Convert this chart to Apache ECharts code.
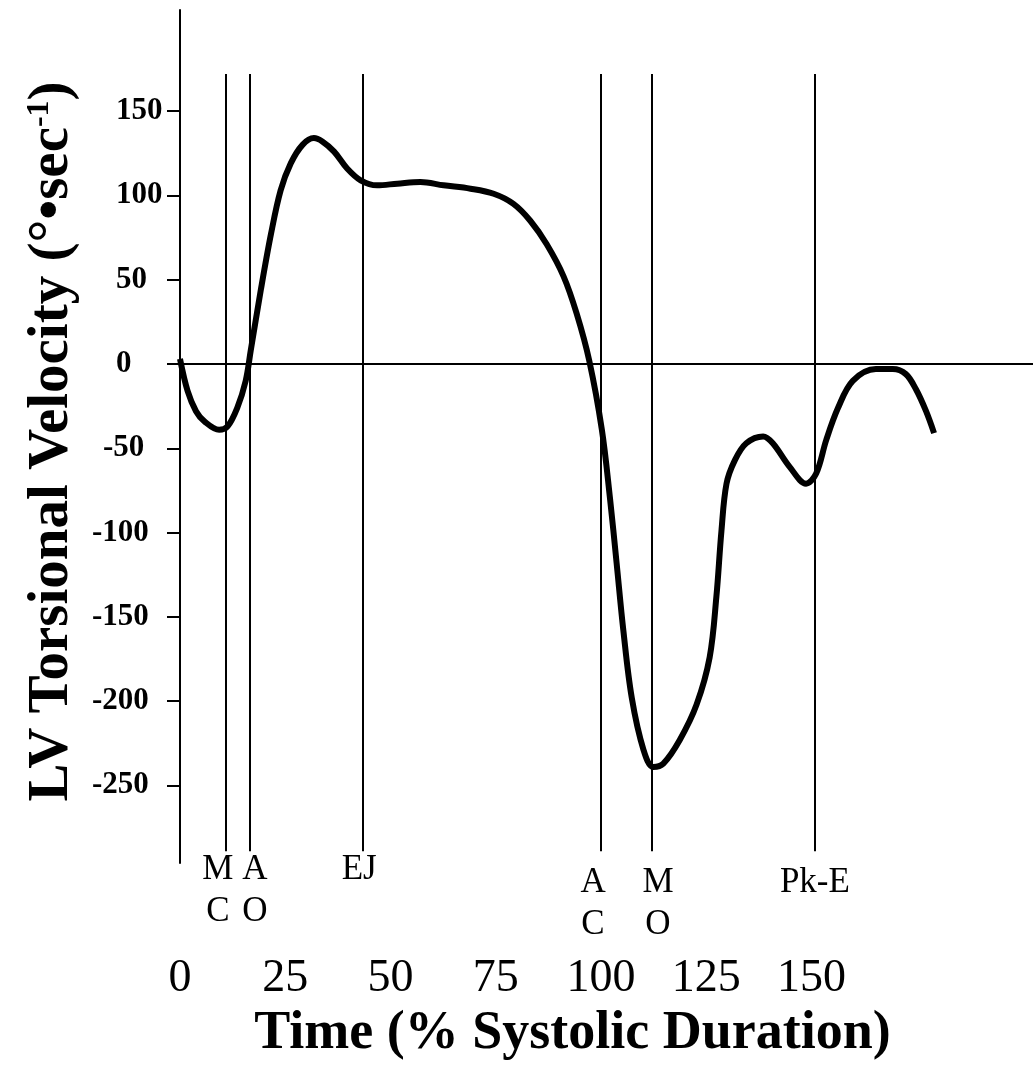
<!DOCTYPE html>
<html><head><meta charset="utf-8">
<script src="https://cdn.jsdelivr.net/npm/echarts@6/dist/echarts.min.js"></script>
<style>html,body{margin:0;padding:0;background:#fff}#c{width:1033px;height:1074px}</style>
</head><body><div id="c"></div>
<script>
// ---- data ----
const timePct = [0, 1.8, 3.8, 5.8, 9.3, 11.3, 13.6, 15.6, 16.8, 19.2, 21.6, 23.9, 26.3, 29.1, 31.8, 33.8, 36.6, 39.7, 42.9, 46.8, 51.6, 57.1, 62.6, 69, 74.5, 79.2, 83.2, 87.1, 91.1, 94.2, 97.2, 100.2, 102.1, 103.7, 105.3, 107.3, 110.1, 112.4, 114.8, 118.7, 122.7, 125.8, 127.4, 128.6, 129.8, 131.8, 134.5, 138.5, 140.8, 144.8, 148.7, 151.1, 153.5, 156.3, 159.8, 165.3, 169.3, 172.4, 174.8, 177.2, 179.1];
const torsionalVelocity = [3, -16, -28, -34, -39, -37, -26, -10, 8, 44, 77, 103, 119, 130, 134, 132, 126, 116, 109, 106, 107, 108, 106, 104, 101, 95, 85, 71, 52, 30, 2, -39, -79, -118, -158, -198, -229, -239, -237, -223, -202, -174, -138, -99, -71, -57, -47, -43, -47, -61, -71, -65, -45, -26, -10, -3, -3, -6, -15, -28, -41];
const eventTimes = [10.9, 16.6, 43.5, 100, 112.1, 150.8];
const eventLabels = ['M\nC', 'A\nO', 'EJ', 'A\nC', 'M\nO', 'Pk-E'];
const xTickValues = [0, 25, 50, 75, 100, 125, 150];
const yTickValues = [-250, -200, -150, -100, -50, 0, 50, 100, 150];

// ---- styling ----
const serif = "'Liberation Serif','Times New Roman',serif";
const labelShiftX = [-8, 5, -4, -8, 6, 0];
const labelDist = [-2, -2, -2, 11, 11, 11];

const chart = echarts.init(document.getElementById('c'), null, {renderer: 'canvas'});

const eventLines = eventTimes.map((t, i) => {
  const s = labelShiftX[i];
  return [
    {coord: [t, -289], label: {
      show: true, position: 'start', distance: labelDist[i], formatter: eventLabels[i],
      fontFamily: serif, fontSize: 35, lineHeight: 42, color: '#000',
      padding: [0, s < 0 ? -2 * s : 0, 0, s > 0 ? 2 * s : 0]
    }},
    {coord: [t, 172]}
  ];
});

const yLab = {fontFamily: serif, fontSize: 31, fontWeight: 'bold', color: '#000'};

chart.setOption({
  animation: false,
  backgroundColor: '#fff',
  grid: {left: 180, right: 0, top: 10, bottom: 211, containLabel: false},
  xAxis: {
    type: 'value', min: 0, max: 202.6,
    axisLine: {show: false}, axisTick: {show: false}, splitLine: {show: false},
    axisLabel: {customValues: xTickValues, margin: 93, fontFamily: serif, fontSize: 46, color: '#000'},
    name: 'Time (% Systolic Duration)', nameLocation: 'middle', nameGap: 141,
    nameTextStyle: {fontFamily: serif, fontSize: 54, fontWeight: 'bold', color: '#000', padding: [0, 68, 0, 0]}
  },
  yAxis: {
    type: 'value', min: -296, max: 210,
    splitLine: {show: false},
    axisLine: {show: true, onZero: false, lineStyle: {color: '#000', width: 2}},
    axisTick: {show: true, length: 13, customValues: yTickValues, lineStyle: {color: '#000', width: 2}},
    axisLabel: {
      customValues: yTickValues, align: 'left', margin: 88,
      fontFamily: serif, fontSize: 31, fontWeight: 'bold', color: '#000',
      formatter: v => v >= 0 ? '{p|' + v + '}' : (v > -100 ? '{m|' + v + '}' : '{n|' + v + '}'),
      rich: {
        p: Object.assign({padding: [0, 0, 0, 24]}, yLab),
        m: Object.assign({padding: [0, 0, 0, 11]}, yLab),
        n: Object.assign({}, yLab)
      }
    },
    name: '{a|LV Torsional Velocity (°•sec}{s|-1}{a|)}',
    nameLocation: 'middle', nameRotate: 90, nameGap: 95,
    nameTextStyle: {
      padding: [0, 10, 0, 0],
      rich: {
        a: {fontFamily: serif, fontSize: 57, fontWeight: 'bold', color: '#000'},
        s: {fontFamily: serif, fontSize: 32, fontWeight: 'bold', color: '#000', verticalAlign: 'top'}
      }
    }
  },
  series: [{
    type: 'line',
    data: timePct.map((t, i) => [t, torsionalVelocity[i]]),
    showSymbol: false,
    smooth: 0.35,
    lineStyle: {color: '#000', width: 6},
    z: 5,
    markLine: {
      silent: true, symbol: ['none', 'none'], animation: false,
      lineStyle: {color: '#000', width: 2, type: 'solid'},
      emphasis: {disabled: true},
      data: [{yAxis: 0, label: {show: false}}].concat(eventLines)
    }
  }]
});
</script>
</body></html>
